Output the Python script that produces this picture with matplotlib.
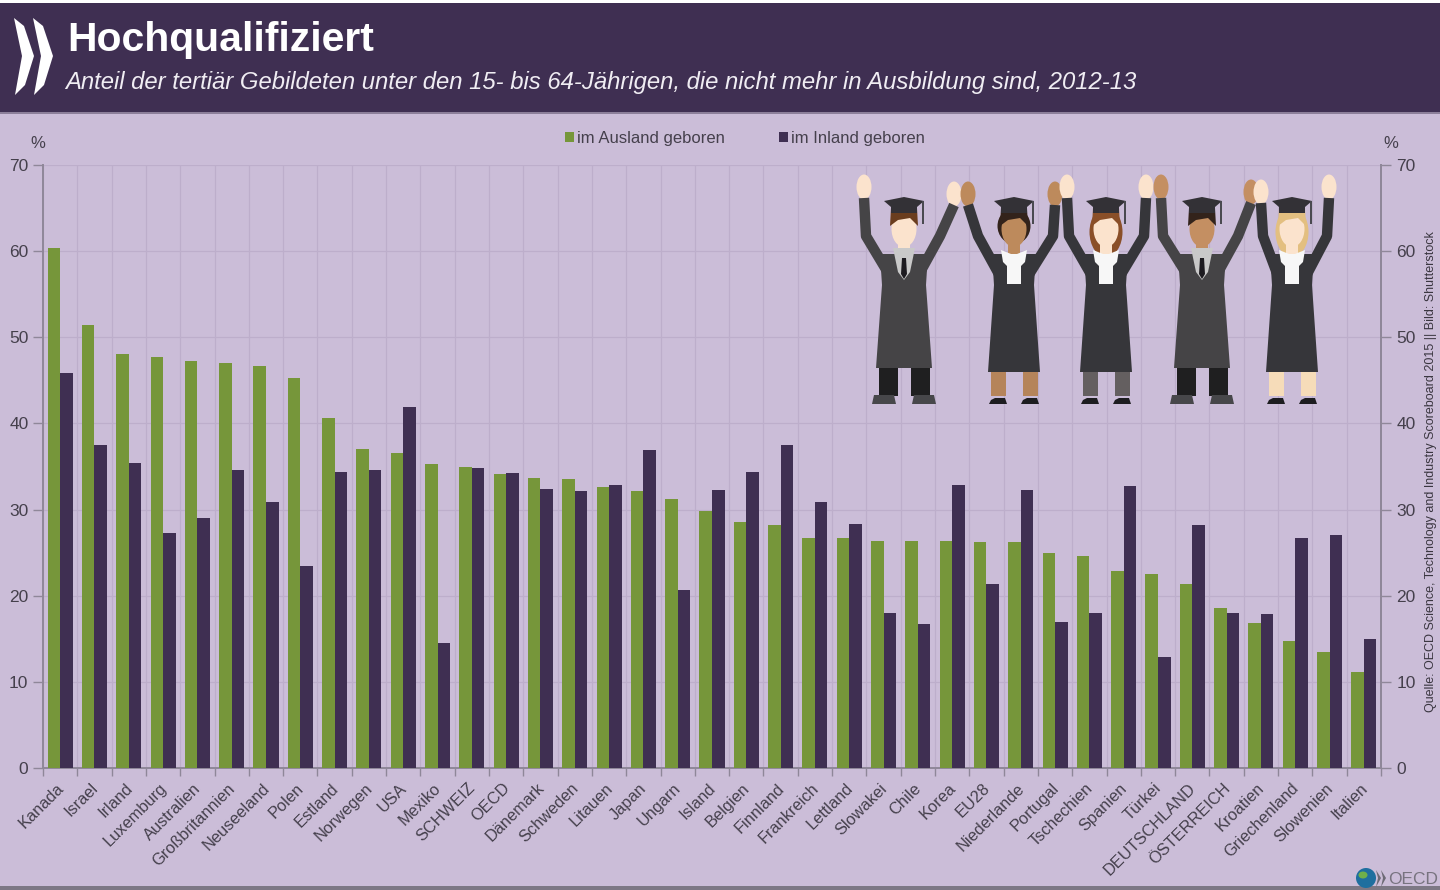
import numpy as np
import matplotlib
matplotlib.use("Agg")
import matplotlib.pyplot as plt
from matplotlib.patches import Polygon, Ellipse, Rectangle, Circle
from matplotlib.transforms import ScaledTranslation

plt.rcParams["font.family"] = ["Liberation Sans", "DejaVu Sans"]

COUNTRIES = ["Kanada", "Israel", "Irland", "Luxemburg", "Australien", "Großbritannien",
             "Neuseeland", "Polen", "Estland", "Norwegen", "USA", "Mexiko", "SCHWEIZ",
             "OECD", "Dänemark", "Schweden", "Litauen", "Japan", "Ungarn", "Island",
             "Belgien", "Finnland", "Frankreich", "Lettland", "Slowakei", "Chile",
             "Korea", "EU28", "Niederlande", "Portugal", "Tschechien", "Spanien",
             "Türkei", "DEUTSCHLAND", "ÖSTERREICH", "Kroatien", "Griechenland",
             "Slowenien", "Italien"]
FOREIGN_BORN = [60.4, 51.4, 48.1, 47.7, 47.2, 47.0, 46.7, 45.3, 40.6, 37.0, 36.6, 35.3, 35.0,
                34.1, 33.7, 33.6, 32.6, 32.1, 31.2, 29.8, 28.5, 28.2, 26.7, 26.7, 26.3, 26.3,
                26.3, 26.2, 26.2, 25.0, 24.6, 22.9, 22.5, 21.4, 18.6, 16.8, 14.7, 13.5, 11.2]
NATIVE_BORN = [45.9, 37.5, 35.4, 27.3, 29.0, 34.6, 30.9, 23.4, 34.4, 34.6, 41.9, 14.5, 34.8,
               34.3, 32.4, 32.2, 32.8, 36.9, 20.7, 32.3, 34.4, 37.5, 30.9, 28.3, 18.0, 16.7,
               32.8, 21.4, 32.3, 16.9, 18.0, 32.7, 12.9, 28.2, 18.0, 17.9, 26.7, 27.0, 15.0]
Y_TICKS = [0, 10, 20, 30, 40, 50, 60, 70]

PURPLE = "#3f2f52"
GREEN = "#76963a"
BG = "#cbbdd8"
GRID = "#bdaecb"
AXIS = "#8f8799"
TEXT = "#45404c"
W, H = 1440, 890

fig = plt.figure(figsize=(W / 100, H / 100), dpi=100, facecolor=BG)

# overlay in pixel coordinates for header and illustration
top = fig.add_axes([0, 0, 1, 1], zorder=5)
top.set_xlim(0, W)
top.set_ylim(H, 0)
top.axis("off")
top.patch.set_alpha(0)

top.add_patch(Rectangle((0, 0), W, 3, color="white", lw=0))
top.add_patch(Rectangle((0, 3), W, 109, color=PURPLE, lw=0))
top.add_patch(Rectangle((0, 112), W, 1.5, color="#8c7f9a", lw=0))
top.add_patch(Rectangle((0, 886), W, 4, color="#7d7885", lw=0))

# chevrons of the logo
for dx in (0, 19):
    top.add_patch(Polygon(np.array([[14, 18], [24, 26], [34, 56], [25, 85], [15, 95],
                                    [22, 56]]) + [dx, 0], color="white", lw=0))

top.text(67, 40, "Hochqualifiziert", color="white", fontsize=29.4, fontweight="bold", va="center")
top.text(65, 82, "Anteil der tertiär Gebildeten unter den 15- bis 64-Jährigen, die nicht mehr in "
         "Ausbildung sind, 2012-13", color="#f0edf3", fontsize=17.2, style="italic", va="center")

# main chart
ax = fig.add_axes([43 / W, 1 - 768 / H, (1381 - 43) / W, (768 - 165) / H], zorder=2)
ax.patch.set_alpha(0)
x = np.arange(len(COUNTRIES))
bar_w = 0.365
ax.bar(x - bar_w / 2, FOREIGN_BORN, bar_w, color=GREEN, label="im Ausland geboren", zorder=3)
ax.bar(x + bar_w / 2, NATIVE_BORN, bar_w, color=PURPLE, label="im Inland geboren", zorder=3)
ax.set_xlim(-0.5, len(COUNTRIES) - 0.5)
ax.set_ylim(0, 70)

ax.set_yticks(Y_TICKS)
ax.tick_params(axis="y", length=7, color=AXIS, labelsize=12.5, labelcolor=TEXT, pad=3.5, width=1)
ax.set_xticks(x)
ax.set_xticklabels(COUNTRIES, rotation=45, ha="right", va="top", rotation_mode="anchor",
                   fontsize=11.8, color=TEXT)
ax.tick_params(axis="x", which="major", length=0, pad=9)
shift = ScaledTranslation(-3 / 72, 0, fig.dpi_scale_trans)
for lab in ax.get_xticklabels():
    lab.set_transform(lab.get_transform() + shift)
ax.set_xticks(np.arange(len(COUNTRIES) + 1) - 0.5, minor=True)
ax.tick_params(axis="x", which="minor", length=6, color=AXIS, width=1)
ax.grid(True, axis="y", color=GRID, lw=0.9, zorder=0)
ax.grid(True, axis="x", which="minor", color=GRID, lw=0.9, zorder=0)
ax.grid(False, axis="x", which="major")
ax.set_axisbelow(True)
ax.spines["top"].set_visible(False)
for s in ("left", "right", "bottom"):
    ax.spines[s].set_color(AXIS)
    ax.spines[s].set_linewidth(1.4)

ax2 = ax.twinx()
ax2.set_ylim(0, 70)
ax2.set_yticks(Y_TICKS)
ax2.tick_params(axis="y", length=7, color=AXIS, labelsize=12.5, labelcolor=TEXT, pad=4, width=1)
ax2.patch.set_alpha(0)
for s in ("top", "left", "bottom"):
    ax2.spines[s].set_visible(False)
ax2.spines["right"].set_color(AXIS)
ax2.spines["right"].set_linewidth(1.4)

top.text(38, 143, "%", fontsize=12, color=TEXT, ha="center", va="center")
top.text(1391, 143, "%", fontsize=12, color=TEXT, ha="center", va="center")

h, l = ax.get_legend_handles_labels()
leg = fig.legend(h, l, ncol=2, frameon=False, fontsize=12, labelcolor=TEXT,
                 loc="center", bbox_to_anchor=(745 / W, 1 - 138 / H),
                 handlelength=0.55, handleheight=0.55, handletextpad=0.2, columnspacing=3.2)
leg.set_zorder(6)

top.text(1431, 472, "Quelle: OECD Science, Technology and Industry Scoreboard 2015 || Bild: Shutterstock",
         rotation=90, fontsize=9, color="#3a3640", ha="center", va="center")

# OECD mark bottom right
top.add_patch(Circle((1366, 878), 10, color="#1f6f9f", lw=0))
top.add_patch(Ellipse((1363, 875), 9, 7, color="#6fb04a", lw=0))
for dx in (0, 5):
    top.add_patch(Polygon(np.array([[1376, 870], [1381, 878], [1376, 887], [1378, 878]]) + [dx, 0],
                          color="#6d6a75", lw=0))
top.text(1388, 879, "OECD", fontsize=12.5, color="#77737f", va="center")


def draw_graduate(cx, arm_l, arm_r, arm_y_l, arm_y_r, skin, hair, robe, legs, shoes,
                  collar, female=False, long_hair=False):
    # one figure of the illustration, coordinates in pixels
    half_top = 20 if female else 22
    half_hem = 26 if female else 28
    hem = 372 if female else 368
    # arms
    for arm_x, arm_y, sgn in ((arm_l, arm_y_l, -1), (arm_r, arm_y_r, 1)):
        top.add_patch(Ellipse((arm_x, arm_y - 11), 15, 25, color=skin, lw=0, zorder=1))
        elbow_x = arm_x - sgn * 2 if abs(arm_x - cx) < 42 else cx + sgn * 36
        top.plot([arm_x, elbow_x, cx + sgn * 14], [arm_y, 236, 276], color=robe, lw=7.5,
                 solid_capstyle="butt", solid_joinstyle="round", zorder=2)
    # legs and shoes
    for sgn in (-1, 1):
        lx = cx + sgn * 16
        wl = 7.5 if female else 9.5
        top.add_patch(Rectangle((lx - wl, hem), 2 * wl, 396 - hem, color=legs, lw=0, zorder=1))
        if female:
            top.add_patch(Polygon([[lx - 9, 404], [lx + 9, 404], [lx + 7, 398], [lx - 3, 398], [lx - 7, 400]],
                                  color=shoes, lw=0, zorder=2))
        else:
            top.add_patch(Polygon([[lx + sgn * 4 - 12, 404], [lx + sgn * 4 + 12, 404], [lx + sgn * 4 + 10, 395],
                                   [lx + sgn * 4 - 10, 395]], color=shoes, lw=0, zorder=2))
    # robe
    top.add_patch(Polygon([[cx - half_top - 2, 254], [cx + half_top + 2, 254],
                           [cx + half_top, 285], [cx + half_hem, hem], [cx - half_hem, hem],
                           [cx - half_top, 285]], color=robe, lw=0, zorder=3))
    # hair behind the head
    if long_hair:
        top.add_patch(Ellipse((cx, 232), 33, 50, color=hair, lw=0, zorder=3))
    elif female:
        top.add_patch(Ellipse((cx, 226), 33, 36, color=hair, lw=0, zorder=3))
    # neck, collar, tie
    top.add_patch(Rectangle((cx - 6, 240), 12, 16, color=skin, lw=0, zorder=4))
    if female:
        top.add_patch(Polygon([[cx - 13, 250], [cx - 3, 254], [cx + 3, 254], [cx + 13, 250], [cx + 11, 262],
                               [cx + 7, 266], [cx + 7, 284], [cx - 7, 284], [cx - 7, 266], [cx - 11, 262]],
                              color=collar, lw=0, zorder=4))
    else:
        top.add_patch(Polygon([[cx - 11, 248], [cx + 11, 248], [cx + 6, 272], [cx, 280], [cx - 6, 272]],
                              color=collar, lw=0, zorder=4))
        top.add_patch(Polygon([[cx - 2, 258], [cx + 2, 258], [cx + 3, 274], [cx, 279], [cx - 3, 274]],
                              color="#1d1b20", lw=0, zorder=5))
    # head and hair
    top.add_patch(Ellipse((cx, 229), 25, 36, color=skin, lw=0, zorder=5))
    top.add_patch(Polygon([[cx - 14, 226], [cx - 13, 208], [cx + 13, 208], [cx + 14, 226],
                           [cx + 6, 218], [cx - 6, 220]], color=hair, lw=0, zorder=6))
    # cap
    top.add_patch(Polygon([[cx - 20, 201], [cx, 197], [cx + 20, 201], [cx + 13, 207], [cx + 13, 213],
                           [cx - 13, 213], [cx - 13, 207]], color="#333136", lw=0, zorder=7))
    top.add_patch(Rectangle((cx + 18, 201), 1.5, 23, color="#4a4a50", lw=0, zorder=7))


draw_graduate(904, 864, 954, 198, 205, "#fbe3cd", "#6a3d1e", "#454446", "#1f1f20", "#47474a", "#c9c9c9")
draw_graduate(1014, 968, 1055, 205, 205, "#bd8a5c", "#33231b", "#36363a", "#b5845a", "#1d1d20", "#f7f7f7", female=True)
draw_graduate(1106, 1067, 1146, 198, 198, "#fbe3cd", "#8a4f28", "#36363a", "#645f60", "#1d1d20", "#f7f7f7",
              female=True, long_hair=True)
draw_graduate(1202, 1161, 1251, 198, 203, "#c48f62", "#33231b", "#454446", "#1f1f20", "#47474a", "#c9c9c9")
draw_graduate(1292, 1261, 1329, 203, 198, "#fbe3cd", "#e3bf80", "#36363a", "#f6dcb9", "#1d1d20", "#f7f7f7",
              female=True, long_hair=True)

fig.savefig("out.png", dpi=100, facecolor=fig.get_facecolor())
